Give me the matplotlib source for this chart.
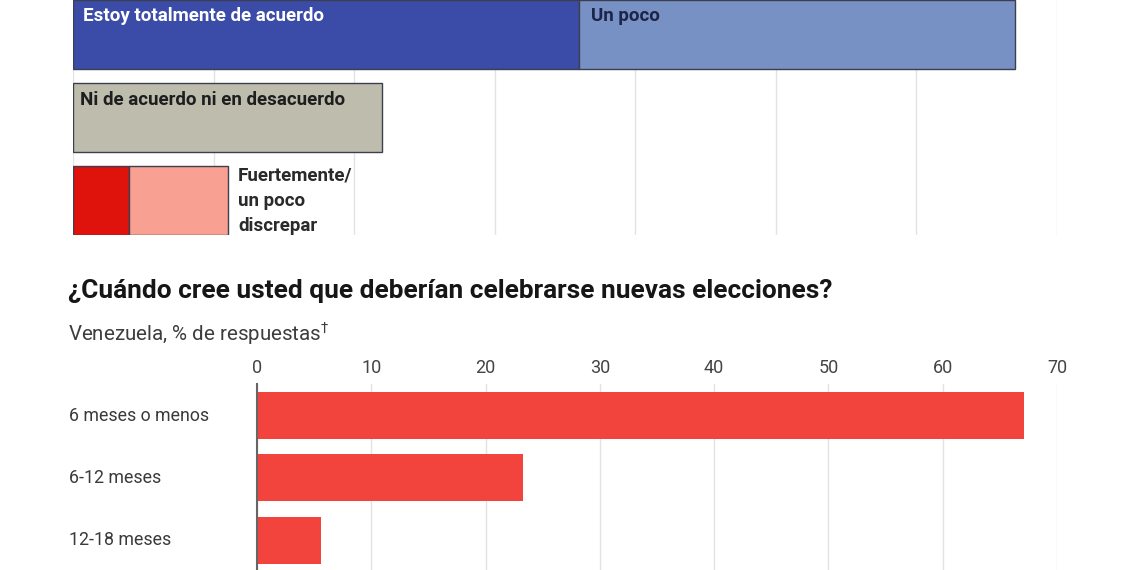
import matplotlib
matplotlib.use("Agg")
import matplotlib.pyplot as plt

plt.rcParams['font.family'] = ['Roboto', 'DejaVu Sans']

# top chart (cut off): agreement, % of answers
acuerdo_total = 36
acuerdo_poco = 31
ni_ni = 22
discrepar_fuerte = 4
discrepar_poco = 7
top_ticks = [0, 10, 20, 30, 40, 50, 60, 70]

# bottom chart: when should new elections be held
plazos = ['6 meses o menos', '6-12 meses', '12-18 meses']
respuestas = [67.1, 23.3, 5.6]
bottom_ticks = [0, 10, 20, 30, 40, 50, 60, 70]

W, H = 1140, 570
fig = plt.figure(figsize=(W / 100, H / 100), dpi=100)

def box(l, t, r, b):
    # pixel box -> figure coords
    return [l / W, 1 - b / H, (r - l) / W, (b - t) / H]

# ---- top chart
ax1 = fig.add_axes(box(73, 0, 1057, 235))
h1 = 0.83
edge = '#3b3f4f'
ax1.barh(0, acuerdo_total, height=h1, color='#3a4ca8', edgecolor=edge, lw=1)
ax1.barh(0, acuerdo_poco, left=acuerdo_total, height=h1, color='#7891c5', edgecolor=edge, lw=1)
ax1.barh(1, ni_ni, height=h1, color='#bebdad', edgecolor=edge, lw=1)
ax1.barh(2, discrepar_fuerte, height=h1, color='#e0120c', edgecolor=edge, lw=1)
ax1.barh(2, discrepar_poco, left=discrepar_fuerte, height=h1, color='#f8a092', edgecolor=edge, lw=1)

ax1.set_xlim(0, 70)
ax1.set_ylim(2.42, -0.41)
ax1.set_xticks(top_ticks)
ax1.set_yticks([])
ax1.tick_params(axis='x', length=0, labelbottom=False)
ax1.grid(axis='x', color='#e3e3e3', lw=1)
ax1.set_axisbelow(True)
for s in ax1.spines.values():
    s.set_visible(False)

ax1.text(0.7, -0.32, 'Estoy totalmente de acuerdo', color='white', fontsize=13.5,
         fontweight='bold', va='top', ha='left')
ax1.text(acuerdo_total + 0.85, -0.32, 'Un poco', color='#1c2548', fontsize=13.5,
         fontweight='bold', va='top', ha='left')
ax1.text(0.5, 0.69, 'Ni de acuerdo ni en desacuerdo', color='#1e1e1e', fontsize=13.5,
         fontweight='bold', va='top', ha='left')
ax1.text(discrepar_fuerte + discrepar_poco + 0.75, 1.60, 'Fuertemente/\nun poco\ndiscrepar',
         color='#2a2a2a', fontsize=13.5, fontweight='bold', va='top', ha='left',
         linespacing=1.5)

# ---- bottom chart
fig.text(68 / W, 1 - 291 / H, '¿Cuándo cree usted que deberían celebrarse nuevas elecciones?',
         fontsize=18.9, fontweight='bold', color='#161616', va='center', ha='left')
fig.text(68 / W, 1 - 333 / H, 'Venezuela, % de respuestas$^{\u2020}$', fontsize=14.8,
         color='#3d3d3d', va='center', ha='left')

ax2 = fig.add_axes(box(257, 384, 1057, 570))
ax2.barh(range(len(plazos)), respuestas, height=0.755, color='#f2433d')
ax2.set_xlim(0, 70)
ax2.set_ylim(2.48, -0.506)
ax2.set_xticks(bottom_ticks)
ax2.set_xticklabels([str(t) for t in bottom_ticks])
ax2.xaxis.tick_top()
ax2.tick_params(axis='x', length=0, pad=5, labelsize=13, labelcolor='#444444')
ax2.set_yticks([])
ax2.grid(axis='x', color='#e3e3e3', lw=1)
ax2.set_axisbelow(True)
for k, s in ax2.spines.items():
    s.set_visible(k == 'left')
ax2.spines['left'].set_color('#666666')
ax2.spines['left'].set_linewidth(1.5)

for i, p in enumerate(plazos):
    ax2.text(-0.235, i, p, transform=ax2.get_yaxis_transform(), ha='left', va='center',
             fontsize=12.8, color='#3a3a3a')

fig.savefig('out.png', dpi=100)
